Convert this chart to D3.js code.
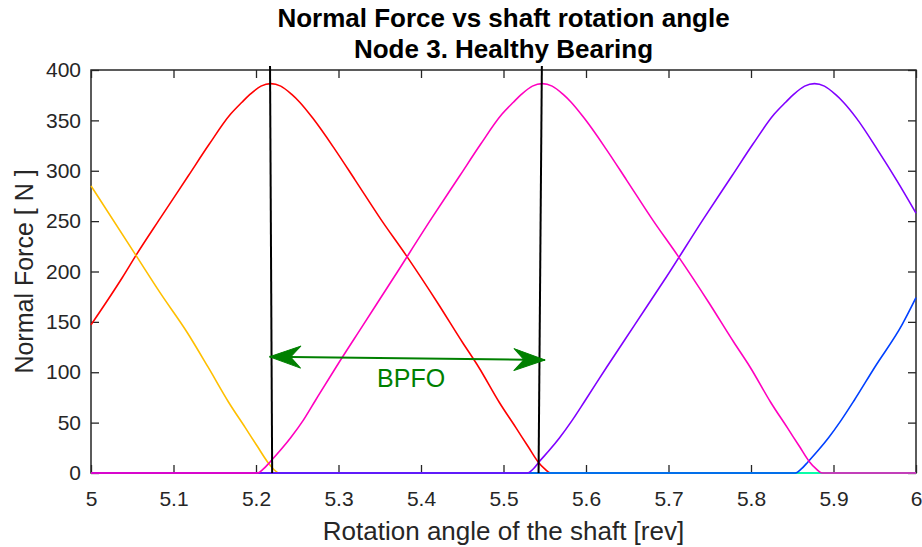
<!DOCTYPE html>
<html>
<head>
<meta charset="utf-8">
<script src="https://cdn.jsdelivr.net/npm/d3@7"></script>
<style>
  html, body { margin: 0; padding: 0; background: #fff; }
  svg { display: block; font-family: "Liberation Sans", Arial, Helvetica, sans-serif; }
</style>
</head>
<body>
<svg id="chart" width="922" height="547"></svg>
<script>
// ---- Data: normal force on each rolling element vs shaft angle ----
const titleLines = ["Normal Force vs shaft rotation angle", "Node 3. Healthy Bearing"];
const xLabel = "Rotation angle of the shaft [rev]";
const yLabel = "Normal Force [ N ]";
const xTicks = [5, 5.1, 5.2, 5.3, 5.4, 5.5, 5.6, 5.7, 5.8, 5.9, 6];
const yTicks = [0, 50, 100, 150, 200, 250, 300, 350, 400];

// roller 1 (red)
const rollerRedX = [5.000, 5.038, 5.0545, 5.084, 5.118, 5.143, 5.169, 5.183, 5.193, 5.206, 5.218, 5.230, 5.243, 5.253, 5.269, 5.295, 5.320, 5.352, 5.382, 5.420, 5.450, 5.470, 5.495, 5.515, 5.530, 5.542, 5.550, 5.557, 6.000];
const rollerRedY = [147, 194, 216, 253, 295, 326, 356, 368, 376, 384, 386.5, 384, 376, 368, 352, 322, 291, 251, 216, 169, 130, 105, 70, 45, 26, 11, 4, 0, 0];
// roller 2 (orange-yellow)
const rollerYellowX = [5.000, 5.0545, 5.0845, 5.117, 5.142, 5.167, 5.187, 5.202, 5.214, 5.221, 5.228, 6.000];
const rollerYellowY = [285, 216, 178, 139, 105, 70, 45, 26, 11, 4, 0, 0];
// rollers 3-5 stay unloaded over this window
const rollerLimeX = [5, 6];
const rollerLimeY = [0, 0];
const rollerGreenX = [5, 6];
const rollerGreenY = [0, 0];
const rollerCyanX = [5, 6];
const rollerCyanY = [0, 0];
// roller 6 (blue)
const rollerBlueX = [5.000, 5.854, 5.861, 5.869, 5.881, 5.894, 5.909, 5.925, 5.950, 5.983, 6.000];
const rollerBlueY = [0, 0, 4, 11, 22, 35, 52, 72, 105, 147, 174];
// roller 7 (violet)
const rollerVioletX = [5.000, 5.529, 5.536, 5.543, 5.555, 5.568, 5.583, 5.599, 5.625, 5.659, 5.697, 5.743, 5.777, 5.802, 5.828, 5.842, 5.852, 5.865, 5.877, 5.889, 5.902, 5.912, 5.928, 5.954, 5.977, 6.000];
const rollerVioletY = [0, 0, 4, 11, 22, 35, 52, 72, 105, 147, 194, 253, 295, 326, 356, 368, 376, 384, 386.5, 384, 376, 368, 352, 320, 290, 258];
// roller 8 (magenta)
const rollerMagentaX = [5.000, 5.202, 5.209, 5.217, 5.229, 5.242, 5.257, 5.272, 5.297, 5.330, 5.367, 5.413, 5.447, 5.472, 5.498, 5.512, 5.522, 5.535, 5.547, 5.559, 5.572, 5.582, 5.598, 5.624, 5.649, 5.681, 5.711, 5.749, 5.779, 5.799, 5.824, 5.844, 5.859, 5.871, 5.879, 5.886, 6.000];
const rollerMagentaY = [0, 0, 4, 11, 22, 35, 52, 72, 105, 147, 194, 253, 295, 326, 356, 368, 376, 384, 386.5, 384, 376, 368, 352, 322, 291, 251, 216, 169, 130, 105, 70, 45, 26, 11, 4, 0, 0];

// load peaks marking one outer-race pass period
const peakLine1X = [5.217, 5.2196];
const peakLine2X = [5.5465, 5.5425];
const peakLineY = [404, 0];
const bpfoArrowX = [5.2165, 5.5503];
const bpfoArrowY = [115.4, 112.2];
const bpfoText = "BPFO";
const bpfoTextPos = [5.388, 94];

const rollers = [
  { x: rollerRedX, y: rollerRedY, color: "#ff0000" },
  { x: rollerYellowX, y: rollerYellowY, color: "#ffbf00" },
  { x: rollerLimeX, y: rollerLimeY, color: "#80ff00" },
  { x: rollerGreenX, y: rollerGreenY, color: "#00ff40" },
  { x: rollerCyanX, y: rollerCyanY, color: "#00ffd0" },
  { x: rollerBlueX, y: rollerBlueY, color: "#0040ff" },
  { x: rollerVioletX, y: rollerVioletY, color: "#8000ff" },
  { x: rollerMagentaX, y: rollerMagentaY, color: "#ff00bf" }
];

// ---- Layout ----
const W = 922, H = 547;
const margin = { left: 91, right: 6, top: 70, bottom: 74 };
const svg = d3.select("#chart");
const x = d3.scaleLinear().domain([5, 6]).range([margin.left, W - margin.right]);
const y = d3.scaleLinear().domain([0, 400]).range([H - margin.bottom, margin.top]);
const axisColor = "#262626";
const tickFont = 21;

function styleAxis(g) {
  g.select(".domain").remove();
  g.selectAll(".tick line").attr("stroke", axisColor).attr("stroke-width", 1.3);
  g.selectAll(".tick text").attr("fill", axisColor)
    .style("font-size", tickFont + "px")
    .style("font-family", "'Liberation Sans', Arial, sans-serif");
}

const fmt = d => String(d);
svg.append("g").attr("transform", `translate(0,${y(0)})`)
  .call(d3.axisBottom(x).tickValues(xTicks).tickFormat(fmt).tickSize(-8).tickPadding(18))
  .call(styleAxis);
svg.append("g").attr("transform", `translate(0,${y(400)})`)
  .call(d3.axisTop(x).tickValues(xTicks).tickFormat("").tickSize(-8))
  .call(styleAxis);
svg.append("g").attr("transform", `translate(${x(5)},0)`)
  .call(d3.axisLeft(y).tickValues(yTicks).tickFormat(fmt).tickSize(-8).tickPadding(10))
  .call(styleAxis);
svg.append("g").attr("transform", `translate(${x(6)},0)`)
  .call(d3.axisRight(y).tickValues(yTicks).tickFormat("").tickSize(-8))
  .call(styleAxis);

// axes box
svg.append("rect")
  .attr("x", x(5)).attr("y", y(400))
  .attr("width", x(6) - x(5)).attr("height", y(0) - y(400))
  .attr("fill", "none").attr("stroke", axisColor).attr("stroke-width", 1.5);

// roller force curves
const line = d3.line().x(d => x(d[0])).y(d => y(d[1])).curve(d3.curveMonotoneX);
rollers.forEach(r => {
  svg.append("path")
    .datum(r.x.map((v, i) => [v, r.y[i]]))
    .attr("d", line)
    .attr("fill", "none")
    .attr("stroke", r.color)
    .attr("stroke-width", 1.6)
    .attr("stroke-linejoin", "round");
});

// peak marker lines
const straight = d3.line().x(d => x(d[0])).y(d => y(d[1]));
[peakLine1X, peakLine2X].forEach(px => {
  svg.append("path")
    .datum(px.map((v, i) => [v, peakLineY[i]]))
    .attr("d", straight)
    .attr("fill", "none").attr("stroke", "#000").attr("stroke-width", 2);
});

// BPFO double arrow
const green = "#008000";
const a0 = [x(bpfoArrowX[0]), y(bpfoArrowY[0])];
const a1 = [x(bpfoArrowX[1]), y(bpfoArrowY[1])];
svg.append("line")
  .attr("x1", a0[0]).attr("y1", a0[1]).attr("x2", a1[0]).attr("y2", a1[1])
  .attr("stroke", green).attr("stroke-width", 2);
function arrowHead(tip, from) {
  const ang = Math.atan2(tip[1] - from[1], tip[0] - from[0]) * 180 / Math.PI;
  svg.append("path")
    .attr("d", "M0,0 L-31,-11 L-21,0 L-31,11 Z")
    .attr("transform", `translate(${tip[0]},${tip[1]}) rotate(${ang})`)
    .attr("fill", green).attr("stroke", green).attr("stroke-width", 1).attr("stroke-linejoin", "round");
}
arrowHead(a0, a1);
arrowHead(a1, a0);
svg.append("text")
  .attr("x", x(bpfoTextPos[0])).attr("y", y(bpfoTextPos[1]))
  .attr("text-anchor", "middle").attr("dominant-baseline", "central")
  .attr("fill", green).style("font-size", "25px")
  .text(bpfoText);

// titles
svg.append("text")
  .attr("x", (x(5) + x(6)) / 2).attr("y", 27)
  .attr("text-anchor", "middle").attr("fill", "#000")
  .style("font-size", "26px").style("font-weight", "bold")
  .text(titleLines[0]);
svg.append("text")
  .attr("x", (x(5) + x(6)) / 2).attr("y", 58)
  .attr("text-anchor", "middle").attr("fill", "#000")
  .style("font-size", "26px").style("font-weight", "bold")
  .text(titleLines[1]);

// axis labels
svg.append("text")
  .attr("x", (x(5) + x(6)) / 2).attr("y", 540)
  .attr("text-anchor", "middle").attr("fill", axisColor)
  .style("font-size", "26px")
  .text(xLabel);
svg.append("text")
  .attr("transform", `translate(33,${(y(0) + y(400)) / 2}) rotate(-90)`)
  .attr("text-anchor", "middle").attr("fill", axisColor)
  .style("font-size", "25px")
  .text(yLabel);
</script>
</body>
</html>
